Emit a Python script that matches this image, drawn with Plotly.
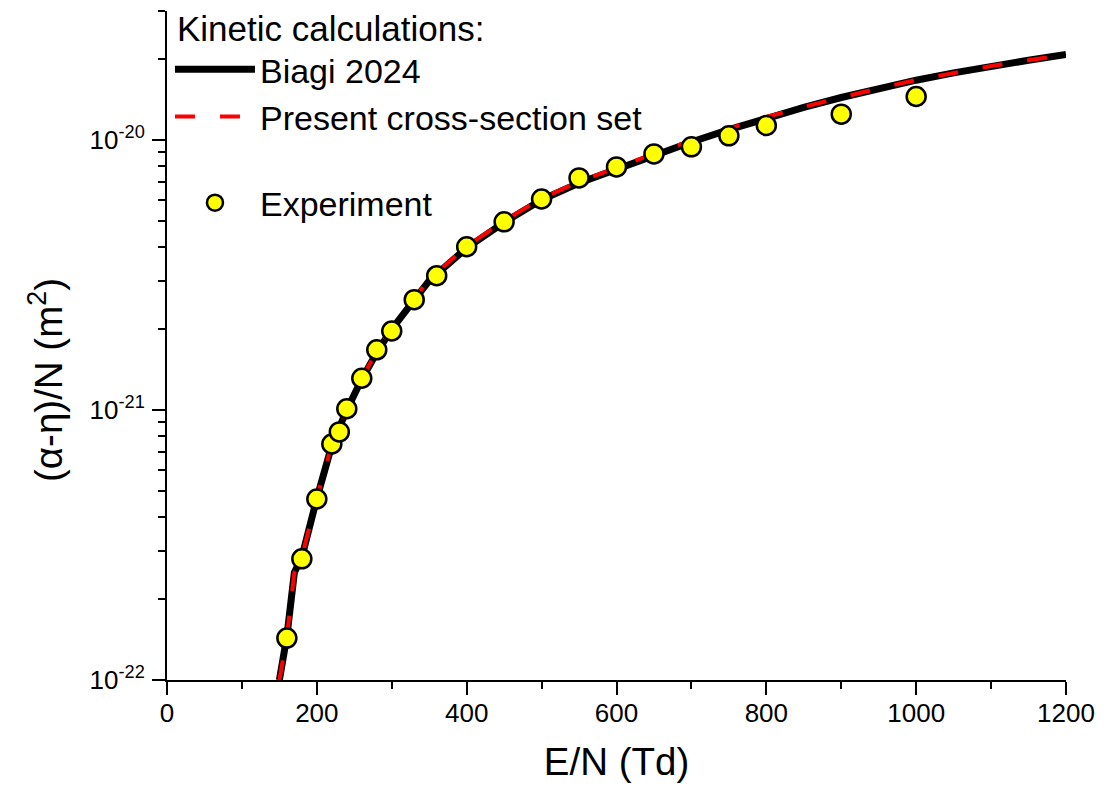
import numpy as np
import plotly.graph_objects as go

# Kinetic calculation curves (E/N in Td, (alpha-eta)/N in m^2)
calc_en = [150, 160, 170, 180, 200, 220, 240, 260, 280, 300, 350, 400, 450,
           500, 550, 600, 650, 700, 750, 800, 850, 900, 950, 1000, 1050,
           1100, 1150, 1200]
biagi_vals = [1.0e-22, 1.45e-22, 2.5e-22, 2.85e-22, 4.7e-22, 7.4e-22, 1.0e-21,
              1.30e-21, 1.63e-21, 1.99e-21, 3.01e-21, 3.98e-21, 4.95e-21,
              6.00e-21, 6.92e-21, 7.80e-21, 8.79e-21, 9.82e-21, 1.091e-20,
              1.205e-20, 1.318e-20, 1.435e-20, 1.549e-20, 1.663e-20, 1.770e-20,
              1.875e-20, 1.972e-20, 2.070e-20]
present_vals = [1.0e-22, 1.45e-22, 2.5e-22, 2.86e-22, 4.72e-22, 7.45e-22, 1.01e-21,
                1.31e-21, 1.65e-21, 2.01e-21, 3.05e-21, 4.03e-21, 5.01e-21,
                6.07e-21, 7.00e-21, 7.89e-21, 8.89e-21, 9.93e-21, 1.102e-20,
                1.215e-20, 1.325e-20, 1.440e-20, 1.552e-20, 1.665e-20, 1.771e-20,
                1.876e-20, 1.972e-20, 2.070e-20]

# Experiment
exp_en = [160, 180, 200, 220, 230, 240, 260, 280, 300, 330, 360, 400, 450,
          500, 550, 600, 650, 700, 750, 800, 900, 1000]
exp_vals = [1.43e-22, 2.81e-22, 4.68e-22, 7.48e-22, 8.29e-22, 1.01e-21, 1.31e-21,
            1.67e-21, 1.96e-21, 2.56e-21, 3.14e-21, 4.02e-21, 4.97e-21, 6.04e-21,
            7.23e-21, 7.94e-21, 8.87e-21, 9.42e-21, 1.035e-20, 1.13e-20,
            1.245e-20, 1.447e-20]

y_major = [1e-22, 1e-21, 1e-20]
y_major_text = ["10<sup>-22</sup>", "10<sup>-21</sup>", "10<sup>-20</sup>"]

FONT = "Arial, 'Liberation Sans', sans-serif"

fig = go.Figure()
fig.add_trace(go.Scatter(
    x=calc_en, y=biagi_vals, mode="lines", name="Biagi 2024",
    line=dict(color="black", width=7), legendgroup="calc"))
fig.add_trace(go.Scatter(
    x=calc_en, y=present_vals, mode="lines", name="Present cross-section set",
    line=dict(color="#ff0000", width=4, dash="20px,25px"), legendgroup="calc"))
fig.add_trace(go.Scatter(
    x=exp_en, y=exp_vals, mode="markers", name="Experiment",
    marker=dict(symbol="circle", size=19, color="#ffff00",
                line=dict(color="black", width=2.5)),
    legendgroup="exp"))

minor_y = [m * 10.0 ** e for e in (-22, -21, -20) for m in range(2, 10)
           if m * 10.0 ** e <= 3.01e-20]

fig.update_layout(
    width=1118, height=788,
    margin=dict(l=167, r=52, t=11, b=108),
    paper_bgcolor="white", plot_bgcolor="white",
    font=dict(family=FONT, color="black"),
    showlegend=True,
    legend=dict(
        x=0.0033, y=0.9557, xanchor="left", yanchor="top",
        bgcolor="rgba(0,0,0,0)", borderwidth=0,
        font=dict(size=34, family=FONT, color="black"),
        traceorder="grouped", tracegroupgap=39, itemwidth=80,
    ),
    annotations=[
        dict(text="Kinetic calculations:", xref="paper", yref="paper",
             x=0.009, y=(680 - 28) / 669, xanchor="left", yanchor="middle",
             showarrow=False, font=dict(size=35, family=FONT, color="black")),
        dict(text="(α-η)/N (m<sup>2</sup>)", xref="paper", yref="paper",
             x=-(167 - 46) / 899, y=(680 - 380) / 669, xanchor="center",
             yanchor="middle", textangle=-90, showarrow=False,
             font=dict(size=38.5, family=FONT, color="black")),
    ],
    xaxis=dict(
        range=[0, 1200], dtick=200, tick0=0, automargin=False,
        showgrid=False, zeroline=False,
        showline=True, linecolor="black", linewidth=2,
        ticks="outside", ticklen=13, tickwidth=2, tickcolor="black",
        tickfont=dict(size=26, family=FONT),
        minor=dict(dtick=100, ticks="outside", ticklen=7, tickwidth=2,
                   tickcolor="black", showgrid=False),
        title=dict(text="E/N (Td)", font=dict(size=38.5, family=FONT), standoff=21),
        ticklabelstandoff=-4,
    ),
    yaxis=dict(
        type="log", range=[-22, np.log10(3e-20)], automargin=False,
        tickvals=y_major, ticktext=y_major_text,
        showgrid=False, zeroline=False,
        showline=True, linecolor="black", linewidth=2,
        ticks="outside", ticklen=13, tickwidth=2, tickcolor="black",
        tickfont=dict(size=26, family=FONT),
        minor=dict(tickvals=minor_y, ticks="outside", ticklen=7, tickwidth=2,
                   tickcolor="black", showgrid=False),
        ticklabelstandoff=2,
    ),
)

fig.write_html("out.html")
